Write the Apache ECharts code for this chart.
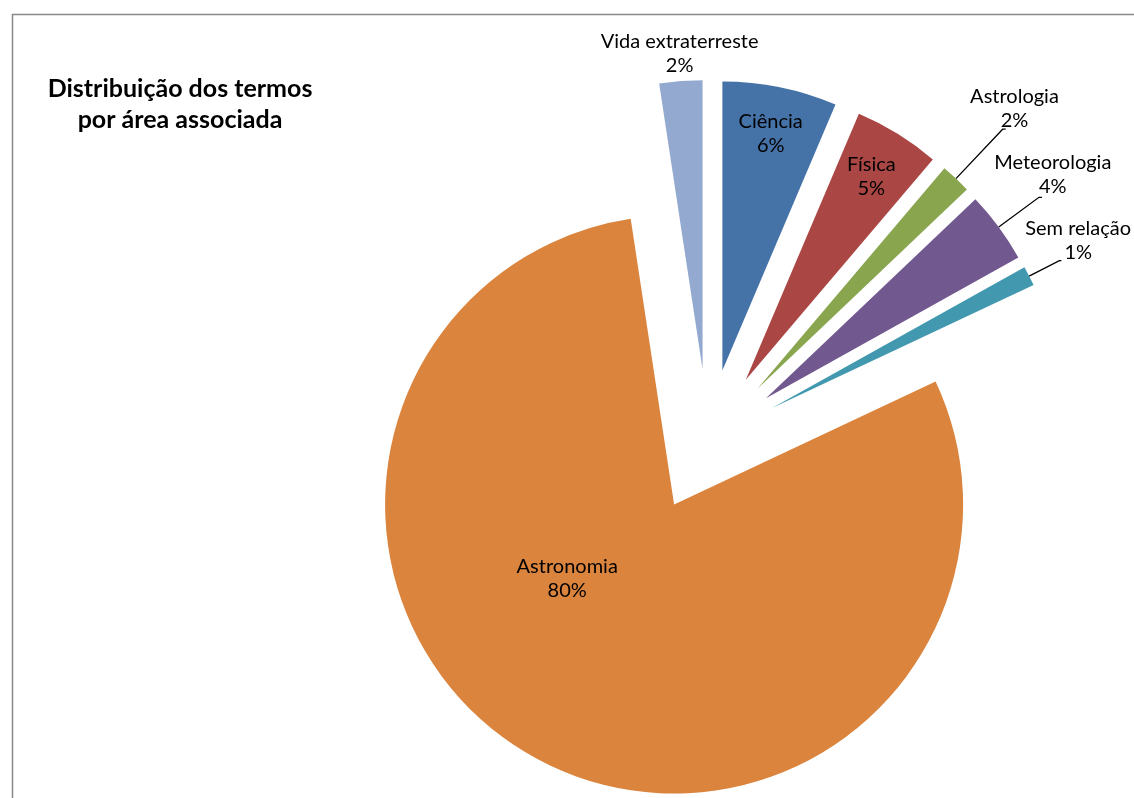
<!DOCTYPE html>
<html>
<head>
<meta charset="utf-8">
<title>Distribuição dos termos por área associada</title>
<script src="https://cdn.jsdelivr.net/npm/echarts@6/dist/echarts.min.js"></script>
<style>
  html, body { margin: 0; padding: 0; background: #fff; }
  #chart { width: 1134px; height: 798px; }
</style>
</head>
<body>
<div id="chart"></div>
<script>
// fatias, no sentido dos ponteiros do relógio a partir das 12h (percentagens)
const areas = ['Ciência', 'Física', 'Astrologia', 'Meteorologia', 'Sem relação', 'Astronomia', 'Vida extraterreste'];
const shares = [6.4, 4.8, 1.7, 4.0, 1.1, 79.6, 2.4];
const sliceColors = ['#4572A7', '#AA4643', '#89A54E', '#71588F', '#4198AF', '#DB843D', '#93A9CF'];

const FONT = 'Lato';
const FS = 20;
const LH = 24;

// largura do texto, para centrar o nome por cima da percentagem
const ctx = document.createElement('canvas').getContext('2d');
ctx.font = FS + 'px ' + FONT;
function textW(s) { return ctx.measureText(s).width; }

const total = shares.reduce((a, b) => a + b, 0);

// onde fica cada rótulo
const labelPlace = {
  'Ciência': { mode: 'in', len: -47 },
  'Física': { mode: 'in', len: -50 },
  'Astronomia': { mode: 'big' },
  'Vida extraterreste': { mode: 'top', len: 16 },
  'Astrologia': { mode: 'side', len: 68, len2: 3, lift: 9, gap: -5 },
  'Meteorologia': { mode: 'side', len: 50, len2: 3, lift: 11, gap: -3 },
  'Sem relação': { mode: 'side', len: 34, len2: 2, lift: 8, gap: 3 }
};

function labelFor(i) {
  const name = areas[i];
  const pct = Math.round(shares[i] / total * 100) + '%';
  const w = Math.max(textW(name), textW(pct));
  const spec = labelPlace[name];
  if (spec.mode === 'in') {
    return {
      label: { position: 'outside', distanceToLabelLine: -w / 2 },
      labelLine: { show: false, length: spec.len, length2: 0 }
    };
  }
  if (spec.mode === 'big') {
    return {
      label: { position: 'inside', padding: [0, 75, 113, 0] },
      labelLine: { show: false }
    };
  }
  if (spec.mode === 'top') {
    return {
      label: { position: 'outside', distanceToLabelLine: -w / 2, padding: [0, 0, LH, 0] },
      labelLine: { show: false, length: spec.len, length2: 0 }
    };
  }
  return {
    label: {
      position: 'outside',
      distanceToLabelLine: spec.gap - (textW(name) - textW(pct)) / 2,
      padding: [0, 0, LH + 2 * spec.lift, 0]
    },
    labelLine: { show: true, length: spec.len, length2: spec.len2 }
  };
}

const tokenStyle = { align: 'center', fontFamily: FONT, fontSize: FS, lineHeight: LH, color: '#000' };

const chart = echarts.init(document.getElementById('chart'));

chart.setOption({
  animation: false,
  backgroundColor: '#fff',
  title: {
    text: 'Distribuição dos termos\npor área associada',
    left: 175,
    top: 68,
    textAlign: 'center',
    textStyle: {
      fontFamily: FONT,
      fontWeight: 'bold',
      fontSize: 25,
      lineHeight: 31,
      color: '#000'
    }
  },
  graphic: [{
    type: 'rect',
    left: 10,
    top: 12,
    silent: true,
    z: -1,
    shape: { width: 1140, height: 800 },
    style: { fill: 'none', stroke: '#898989', lineWidth: 1.5 }
  }],
  series: [{
    type: 'pie',
    center: [708, 441],
    radius: 289,
    startAngle: 90,
    clockwise: true,
    selectedMode: 'multiple',
    selectedOffset: 72,
    avoidLabelOverlap: false,
    labelLayout: { hideOverlap: false },
    emphasis: { disabled: true },
    label: {
      show: true,
      color: '#000',
      fontFamily: FONT,
      fontSize: FS,
      lineHeight: LH,
      formatter: p => '{n|' + p.name + '}\n{p|' + Math.round(p.percent) + '%}',
      rich: { n: tokenStyle, p: tokenStyle }
    },
    labelLine: { lineStyle: { color: '#000', width: 1.3 } },
    data: areas.map((name, i) => Object.assign({
      name: name,
      value: shares[i],
      selected: true,
      itemStyle: { color: sliceColors[i] }
    }, labelFor(i)))
  }]
});
</script>
</body>
</html>
